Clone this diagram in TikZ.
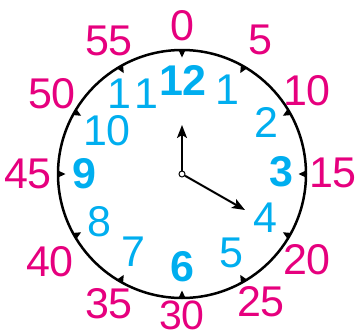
\documentclass[tikz,border=0pt]{standalone}
\usepackage{fontspec}
\setmainfont{Liberation Sans}
\usetikzlibrary{arrows.meta}
\definecolor{hourblue}{RGB}{0,174,239}
\definecolor{minpink}{RGB}{230,0,126}

\begin{document}
\begin{tikzpicture}[x=1pt,y=-1pt,
  hour/.style={text=hourblue,inner sep=0pt,font=\fontsize{43}{43}\selectfont},
  bighour/.style={text=hourblue,inner sep=0pt,font=\fontsize{43}{43}\selectfont\bfseries},
  minute/.style={text=minpink,inner sep=0pt,font=\fontsize{43}{43}\selectfont},
  hand/.style={line width=2pt,-{Stealth[length=13pt,width=10pt,inset=3pt]}}]

\useasboundingbox (0,0) rectangle (357,335);

% Dial
\draw[line width=2.5pt] (182,174) circle (124);

% Ticks every five minutes
\foreach \a in {0,30,...,330}{
  \begin{scope}[shift={(182,174)},rotate=\a]
    \fill (124,-3.5) -- (124,3.5) -- (116.5,0) -- cycle;
  \end{scope}
}

% Hours
\node[bighour] (h12) at (183,80) {12};
\node[hour] (h1) at (227,90) {1};
\node[hour] (h2) at (266,122) {2};
\node[bighour] (h3) at (281,172) {3};
\node[hour] (h4) at (265,218) {4};
\node[hour] (h5) at (231,253) {5};
\node[bighour] (h6) at (182,267) {6};
\node[hour] (h7) at (133,252) {7};
\node[hour] (h8) at (99,222) {8};
\node[bighour] (h9) at (84,174) {9};
\node[hour] (h10) at (107,131) {10};
\node[hour] (h11) at (133,94) {1\kern3pt1};

% Minutes
\node[minute] (m0) at (182,26) {0};
\node[minute] (m5) at (260,40) {5};
\node[minute] (m10) at (307,91) {10};
\node[minute] (m15) at (333,173) {15};
\node[minute] (m20) at (307,260) {20};
\node[minute] (m25) at (261,302) {25};
\node[minute,font=\fontsize{41}{41}\selectfont] (m30) at (182,315.5) {30};
\node[minute] (m35) at (109,304) {35};
\node[minute] (m40) at (50,262) {40};
\node[minute] (m45) at (28,174) {45};
\node[minute] (m50) at (52,94) {50};
\node[minute] (m55) at (109,41) {55};

% Hands
\node[circle,draw,fill=white,line width=1pt,inner sep=0pt,minimum size=6pt] (c) at (182,174) {};
\coordinate (hourtip) at (182,125);
\coordinate (mintip) at (245,210);
\draw[hand] (c) -- (hourtip);
\draw[hand] (c) -- (mintip);

\end{tikzpicture}
\end{document}
